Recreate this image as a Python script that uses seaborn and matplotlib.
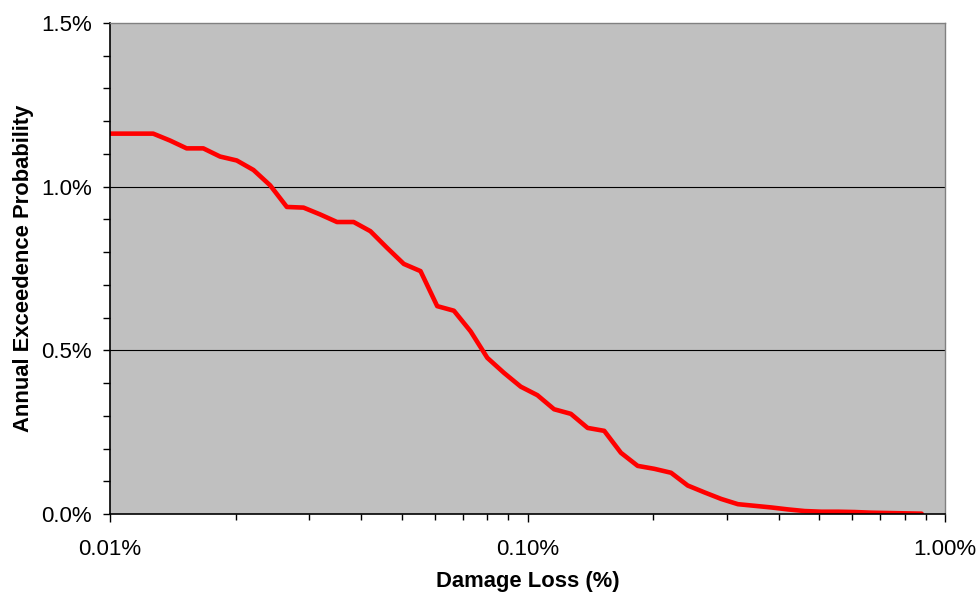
import matplotlib
matplotlib.use("Agg")
from matplotlib import pyplot as plt
from matplotlib.ticker import FuncFormatter, MultipleLocator, LogLocator, NullFormatter
import pandas as pd
import seaborn as sns

sns.set_style("white")
plt.rcParams["font.family"] = ["Liberation Sans", "DejaVu Sans"]
plt.rcParams["text.color"] = "black"
plt.rcParams["axes.labelcolor"] = "black"
plt.rcParams["xtick.color"] = "black"
plt.rcParams["ytick.color"] = "black"

# Damage loss (%)
damage_loss = [0.0100, 0.01269, 0.01392, 0.01526, 0.01673, 0.01835, 0.02012, 0.02206,
               0.02419, 0.02652, 0.02908, 0.03189, 0.03497, 0.03834, 0.04204, 0.04610,
               0.05055, 0.05543, 0.06078, 0.06664, 0.07307, 0.08013, 0.08786, 0.09634,
               0.1056, 0.1158, 0.1270, 0.1393, 0.1527, 0.1674, 0.1836, 0.2013,
               0.2207, 0.2420, 0.2654, 0.2910, 0.3191, 0.3499, 0.3836, 0.4207,
               0.4613, 0.5058, 0.5546, 0.6081, 0.6668, 0.7312, 0.8017, 0.8791]

# Annual exceedence probability (%)
exceedence = [1.162, 1.162, 1.141, 1.117, 1.117, 1.092, 1.080, 1.051,
              1.004, 0.938, 0.936, 0.915, 0.892, 0.892, 0.864, 0.813,
              0.764, 0.742, 0.635, 0.621, 0.558, 0.477, 0.431, 0.389,
              0.363, 0.320, 0.306, 0.263, 0.254, 0.187, 0.147, 0.138,
              0.126, 0.087, 0.066, 0.046, 0.030, 0.025, 0.020, 0.014,
              0.009, 0.007, 0.007, 0.006, 0.004, 0.003, 0.002, 0.001]

df = pd.DataFrame({"loss": damage_loss, "aep": exceedence})

fig = plt.figure(figsize=(9.78, 5.95), dpi=100)
ax = fig.add_axes([110 / 978, 1 - 514 / 595, (945 - 110) / 978, (514 - 23) / 595])
ax.set_facecolor("#C0C0C0")

sns.lineplot(data=df, x="loss", y="aep", color="#FF0000", linewidth=3.3, ax=ax)

ax.set_xscale("log")
ax.set_xlim(0.01, 1.0)
ax.set_ylim(0, 1.5)

# gridlines at the labelled y ticks
for v in [0.5, 1.0]:
    ax.axhline(v, color="black", linewidth=0.8, zorder=1)

ax.yaxis.set_major_locator(MultipleLocator(0.5))
ax.yaxis.set_minor_locator(MultipleLocator(0.1))
ax.yaxis.set_major_formatter(FuncFormatter(lambda v, p: "%.1f%%" % v))
ax.xaxis.set_major_locator(LogLocator(base=10))
ax.xaxis.set_minor_locator(LogLocator(base=10, subs=range(2, 10)))
ax.xaxis.set_major_formatter(FuncFormatter(lambda v, p: "%.2f%%" % v))
ax.xaxis.set_minor_formatter(NullFormatter())

ax.tick_params(axis="y", which="both", direction="out", length=5, width=1, color="black",
               left=True, labelsize=16, pad=8, labelcolor="black")
ax.tick_params(axis="x", which="major", direction="out", length=6, width=1, color="black",
               bottom=True, labelsize=16, pad=12, labelcolor="black")
ax.tick_params(axis="x", which="minor", direction="out", length=4, width=1, color="black",
               bottom=True)

for side in ["left", "bottom"]:
    ax.spines[side].set_color("black")
    ax.spines[side].set_linewidth(1.2)
for side in ["top", "right"]:
    ax.spines[side].set_color("#808080")
    ax.spines[side].set_linewidth(1.0)
    ax.spines[side].set_visible(True)

ax.set_xlabel("Damage Loss (%)", fontsize=15.8, fontweight="bold", labelpad=8, color="black")
ax.set_ylabel("Annual Exceedence Probability", fontsize=15.8, fontweight="bold", labelpad=5,
              color="black")

fig.savefig("out.png", dpi=100)
